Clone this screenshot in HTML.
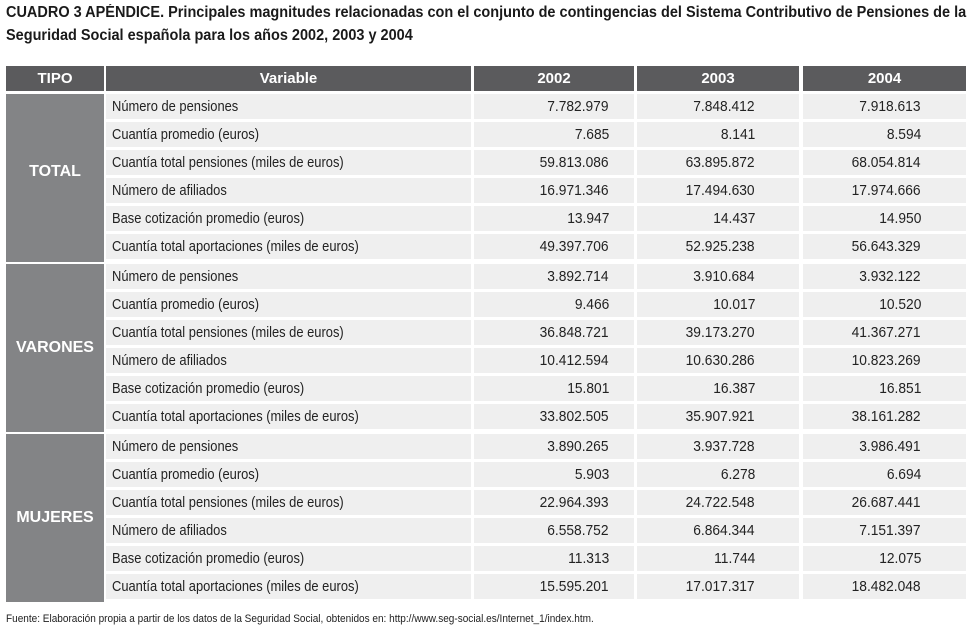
<!DOCTYPE html>
<html><head><meta charset="utf-8">
<style>
body{margin:0;width:974px;height:631px;background:#fff;position:relative;overflow:hidden;font-family:"Liberation Sans",sans-serif;color:#222}
.t{position:absolute;left:6px;font-weight:bold;font-size:15.5px;color:#1a1a1a;white-space:nowrap;transform:scaleX(0.935);transform-origin:0 0}
.c{position:absolute;box-sizing:border-box;display:flex;align-items:center;font-size:14.5px;white-space:nowrap}
.h{background:#5b5b5d;color:#fff;font-weight:bold;font-size:15px;justify-content:center}
.g{background:#838486;color:#fff;font-weight:bold;font-size:16px;justify-content:center}
.v{background:#efefef;padding-left:6px}
.v span{display:inline-block;transform:scaleX(0.89);transform-origin:0 50%}
.n{background:#efefef;justify-content:flex-end}
.n span{display:inline-block;transform:scaleX(0.95);transform-origin:100% 50%}
#foot{position:absolute;left:6px;top:613px;font-size:11px;color:#222;white-space:nowrap;transform:scaleX(0.912);transform-origin:0 0}
</style></head><body>
<div class="t" style="top:4px">CUADRO 3 APÉNDICE. Principales magnitudes relacionadas con el conjunto de contingencias del Sistema Contributivo de Pensiones de la</div>
<div class="t" style="top:27px">Seguridad Social española para los años 2002, 2003 y 2004</div>
<div id="tbl"></div>
<div id="foot">Fuente: Elaboración propia a partir de los datos de la Seguridad Social, obtenidos en: http://www.seg-social.es/Internet_1/index.htm.</div>
<script>
const groups=["TOTAL","VARONES","MUJERES"];
const variables=["Número de pensiones","Cuantía promedio (euros)","Cuantía total pensiones (miles de euros)","Número de afiliados","Base cotización promedio (euros)","Cuantía total aportaciones (miles de euros)"];
const years=["2002","2003","2004"];
const v2002=["7.782.979","7.685","59.813.086","16.971.346","13.947","49.397.706","3.892.714","9.466","36.848.721","10.412.594","15.801","33.802.505","3.890.265","5.903","22.964.393","6.558.752","11.313","15.595.201"];
const v2003=["7.848.412","8.141","63.895.872","17.494.630","14.437","52.925.238","3.910.684","10.017","39.173.270","10.630.286","16.387","35.907.921","3.937.728","6.278","24.722.548","6.864.344","11.744","17.017.317"];
const v2004=["7.918.613","8.594","68.054.814","17.974.666","14.950","56.643.329","3.932.122","10.520","41.367.271","10.823.269","16.851","38.161.282","3.986.491","6.694","26.687.441","7.151.397","12.075","18.482.048"];
const cols=[[6,98],[106,365],[474,160],[637,162],[803,163]];
const pads=[25,44,45];
const tbl=document.getElementById('tbl');
function mk(cls,x,y,w,h,txt,wrap){const d=document.createElement('div');d.className='c '+cls;d.style.left=x+'px';d.style.top=y+'px';d.style.width=w+'px';d.style.height=h+'px';
if(wrap){const s=document.createElement('span');s.textContent=txt;d.appendChild(s);}else d.textContent=txt;
tbl.appendChild(d);return d;}
let e=mk('h',cols[0][0],66,cols[0][1],25,'TIPO');


e=mk('h',cols[1][0],66,cols[1][1],25,'Variable');


years.forEach((y,i)=>{const d=mk('h',cols[i+2][0],66,cols[i+2][1],25,y);

});
const vals=[v2002,v2003,v2004];
groups.forEach((g,gi)=>{
  const top=94+gi*170;
  const gd=mk('g',cols[0][0],top,cols[0][1],168,g);
  if(gi===0)gd.style.paddingBottom='12px';
  
  
  variables.forEach((v,ri)=>{
    const y=top+ri*28, k=gi*6+ri;
    const vd=mk('v',cols[1][0],y,cols[1][1],25,v,true);
    
    
    vals.forEach((arr,ci)=>{
      const nd=mk('n',cols[ci+2][0],y,cols[ci+2][1],25,arr[k],true);
      nd.style.paddingRight=pads[ci]+'px';
      
      
    });
  });
});
</script>
</body></html>
